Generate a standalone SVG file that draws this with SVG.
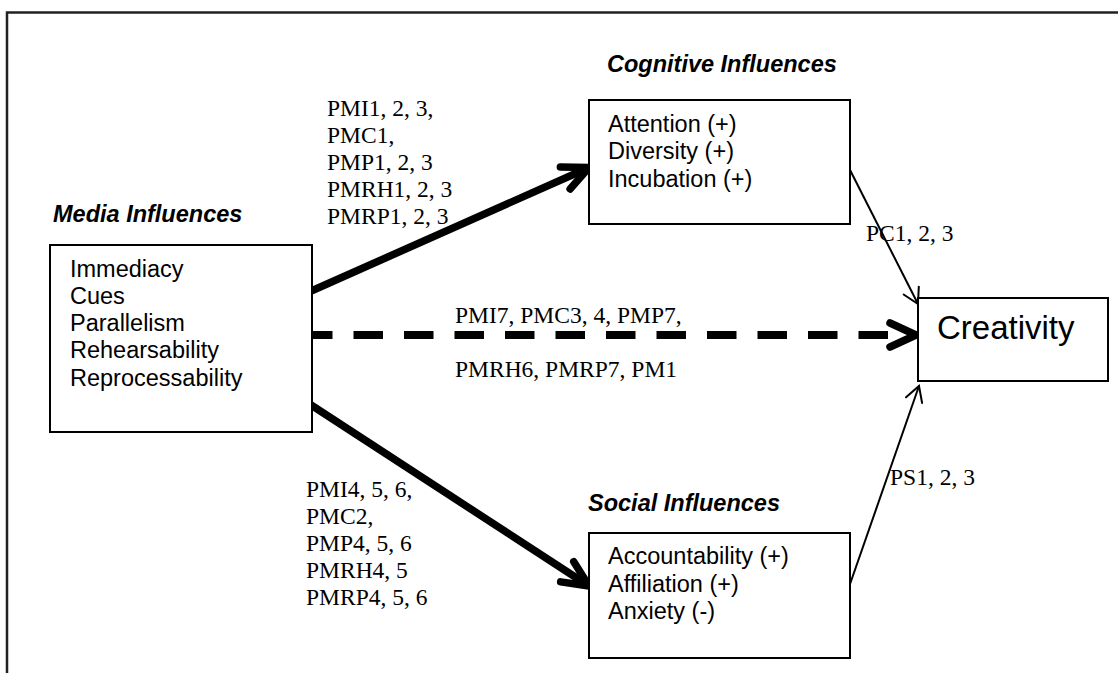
<svg xmlns="http://www.w3.org/2000/svg" width="1120" height="673" viewBox="0 0 1120 673">
<style>
.box{fill:#fff;stroke:#000;stroke-width:2}
.sans{font-family:"Liberation Sans",Arial,sans-serif;font-size:23.5px;fill:#000}
.title{font-family:"Liberation Sans",Arial,sans-serif;font-size:23.5px;font-weight:bold;font-style:italic;fill:#000}
.serif{font-family:"Liberation Serif","Times New Roman",serif;font-size:23.5px;fill:#000}
.thick{fill:none;stroke:#000;stroke-width:7.5;stroke-linecap:butt}
.thin{fill:none;stroke:#000;stroke-width:2}
.dash{fill:none;stroke:#000;stroke-width:8;stroke-dasharray:29.5 21}
</style>
<defs>
<marker id="ahThick" markerUnits="userSpaceOnUse" orient="auto" refX="0" refY="0" markerWidth="60" markerHeight="60" style="overflow:visible">
<path d="M-26,-12 L0,0 L-26,12" fill="none" stroke="#000" stroke-width="7.5" stroke-linecap="round" stroke-linejoin="round" stroke-dasharray="none"/>
</marker>
<marker id="ahThin" markerUnits="userSpaceOnUse" orient="auto" refX="0" refY="0" markerWidth="40" markerHeight="40" style="overflow:visible">
<path d="M-15,-8.5 L0,0 L-15,8.5" fill="none" stroke="#000" stroke-width="2" stroke-linecap="round" stroke-linejoin="miter"/>
</marker>
</defs>
<rect width="1120" height="673" fill="#fff"/>
<g id="frame">
<path d="M7,673 L7,12.5 L1118,12.5" fill="none" stroke="#222" stroke-width="2.5"/>
</g>
<g id="connectors">
<path class="thick" d="M309,292 L589,167.5" marker-end="url(#ahThick)"/>
<path class="thick" d="M308,403 L589,586" marker-end="url(#ahThick)"/>
<path class="dash" d="M303,335 L916,335" marker-end="url(#ahThick)"/>
<path class="thin" d="M848,166 L918,304" marker-end="url(#ahThin)"/>
<path class="thin" d="M849,587 L919,386" marker-end="url(#ahThin)"/>
</g>
<g id="labels">
<text class="serif" x="327" y="116">PMI1, 2, 3,</text>
<text class="serif" x="327" y="143">PMC1,</text>
<text class="serif" x="327" y="170">PMP1, 2, 3</text>
<text class="serif" x="327" y="197">PMRH1, 2, 3</text>
<text class="serif" x="327" y="224">PMRP1, 2, 3</text>
<text class="serif" x="306" y="497">PMI4, 5, 6,</text>
<text class="serif" x="306" y="524">PMC2,</text>
<text class="serif" x="306" y="551">PMP4, 5, 6</text>
<text class="serif" x="306" y="578">PMRH4, 5</text>
<text class="serif" x="306" y="605">PMRP4, 5, 6</text>
<text class="serif" x="455" y="323">PMI7, PMC3, 4, PMP7,</text>
<text class="serif" x="455" y="377">PMRH6, PMRP7, PM1</text>
<text class="serif" x="866" y="241">PC1, 2, 3</text>
<text class="serif" x="890" y="485">PS1, 2, 3</text>
</g>
<g id="media">
<text class="title" x="53" y="222">Media Influences</text>
<rect class="box" x="50" y="245" width="262" height="187"/>
<text class="sans" x="70" y="277">Immediacy</text>
<text class="sans" x="70" y="304">Cues</text>
<text class="sans" x="70" y="331">Parallelism</text>
<text class="sans" x="70" y="358">Rehearsability</text>
<text class="sans" x="70" y="385.5">Reprocessability</text>
</g>
<g id="cognitive">
<text class="title" x="607" y="72">Cognitive Influences</text>
<rect class="box" x="589" y="100" width="261" height="124"/>
<text class="sans" x="608" y="132">Attention (+)</text>
<text class="sans" x="608" y="159">Diversity (+)</text>
<text class="sans" x="608" y="186.5">Incubation (+)</text>
</g>
<g id="social">
<text class="title" x="588" y="511">Social Influences</text>
<rect class="box" x="589" y="533" width="261" height="125"/>
<text class="sans" x="608" y="564">Accountability (+)</text>
<text class="sans" x="608" y="591.5">Affiliation (+)</text>
<text class="sans" x="608" y="619">Anxiety (-)</text>
</g>
<g id="creativity">
<rect class="box" x="918" y="298" width="190" height="83"/>
<text class="sans" x="937" y="339" style="font-size:33px">Creativity</text>
</g>
</svg>
